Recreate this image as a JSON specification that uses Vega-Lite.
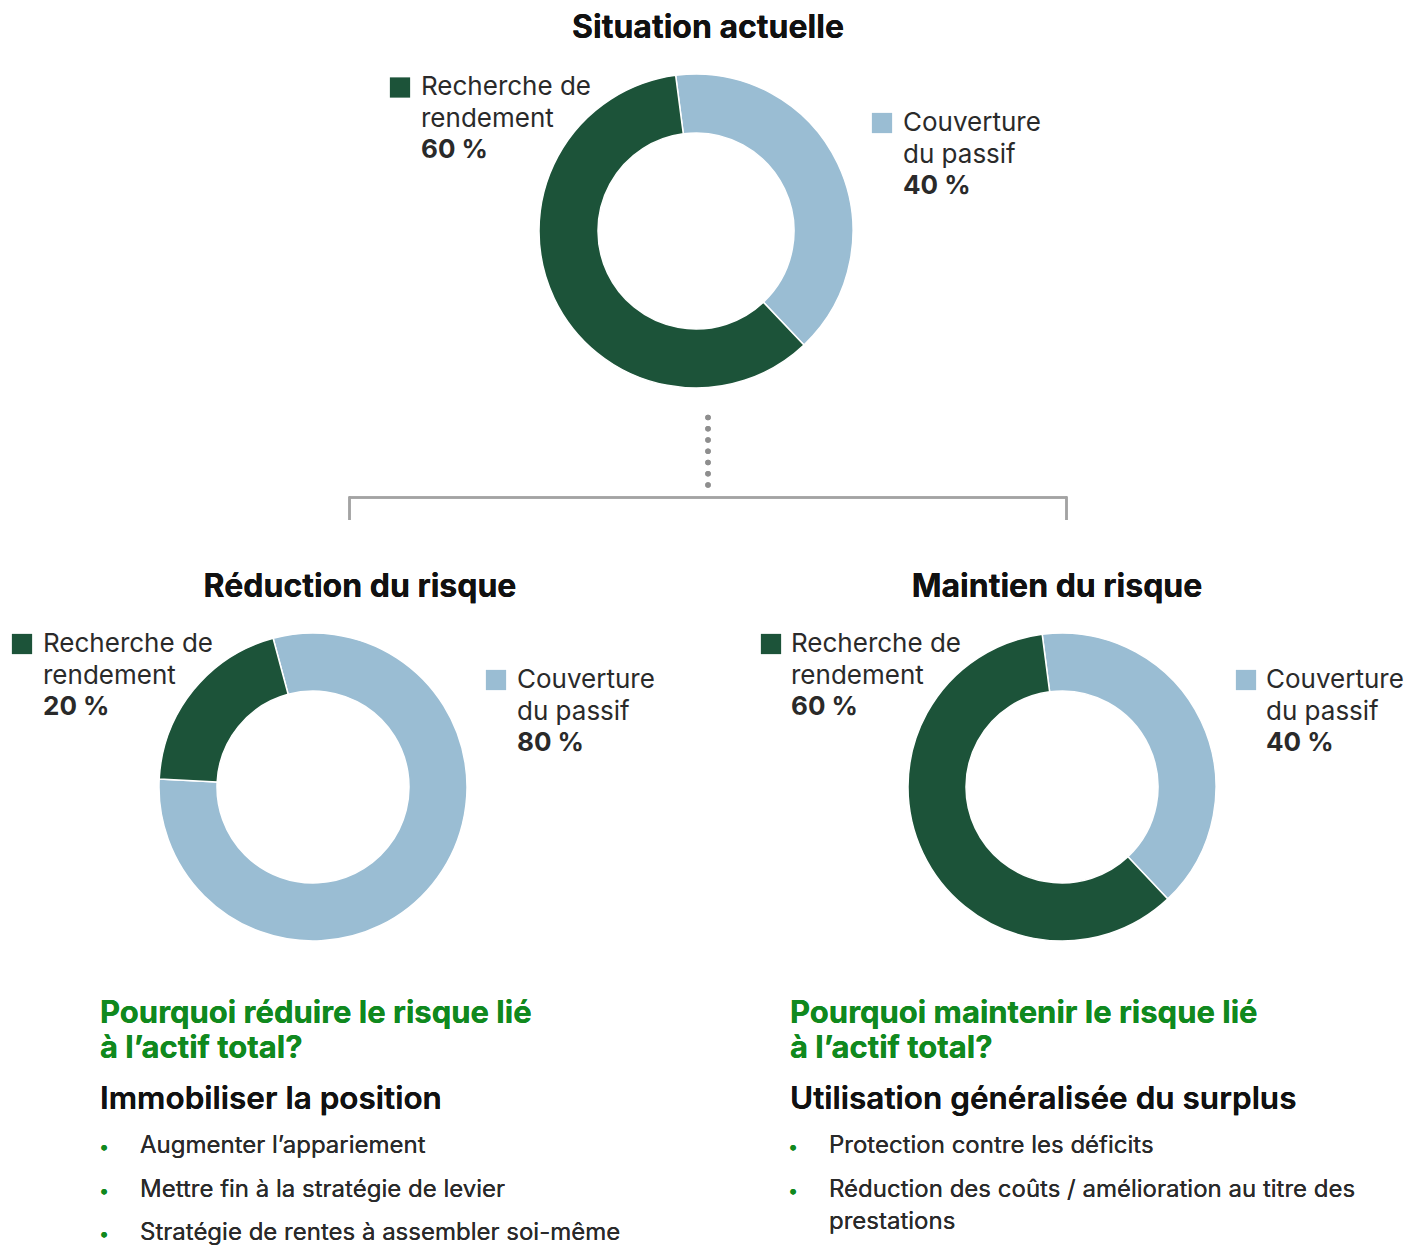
{
  "$schema": "https://vega.github.io/schema/vega-lite/v6.json",
  "background": "white",
  "padding": 0,
  "spacing": 0,
  "bounds": "flush",
  "config": {
    "view": {"stroke": null},
    "font": "Inter",
    "text": {"font": "Inter"},
    "concat": {"spacing": 0}
  },
  "datasets": {
    "shares": [
      {"panel": "actuelle", "category": "Couverture du passif", "label": "Couverture\ndu passif", "value": 40, "order": 1},
      {"panel": "actuelle", "category": "Recherche de rendement", "label": "Recherche de\nrendement", "value": 60, "order": 2},
      {"panel": "reduction", "category": "Couverture du passif", "label": "Couverture\ndu passif", "value": 80, "order": 1},
      {"panel": "reduction", "category": "Recherche de rendement", "label": "Recherche de\nrendement", "value": 20, "order": 2},
      {"panel": "maintien", "category": "Couverture du passif", "label": "Couverture\ndu passif", "value": 40, "order": 1},
      {"panel": "maintien", "category": "Recherche de rendement", "label": "Recherche de\nrendement", "value": 60, "order": 2}
    ]
  },
  "vconcat": [
    {
      "width": 1392,
      "height": 462,
      "data": {"name": "shares"},
      "transform": [
        {"filter": "datum.panel === 'actuelle'"},
        {"calculate": "datum.value + ' %'", "as": "pct"}
      ],
      "layer": [
        {
          "mark": {"type": "arc", "outerRadius": 157, "innerRadius": 98, "stroke": "white", "strokeWidth": 1.5},
          "encoding": {
            "theta": {"field": "value", "type": "quantitative", "stack": true, "scale": {"range": [-0.13, 6.1532]}},
            "order": {"field": "order", "type": "quantitative"},
            "color": {"field": "category", "type": "nominal", "legend": null, "scale": {"domain": ["Recherche de rendement", "Couverture du passif"], "range": ["#1c5339", "#9abdd3"]}}
          }
        },
        {
          "mark": {"type": "text", "text": "Situation actuelle", "x": 708, "y": 38, "align": "center", "baseline": "alphabetic", "fontSize": 32, "fontWeight": "bold", "color": "#111111"},
          "encoding": {}
        },
        {
          "transform": [{"filter": "datum.category === 'Recherche de rendement'"}],
          "layer": [
            {"mark": {"type": "square", "size": 410, "opacity": 1, "x": 400, "y": 87.5}, "encoding": {"color": {"field": "category", "type": "nominal", "legend": null}}},
            {"mark": {"type": "text", "x": 421, "y": 95, "align": "left", "baseline": "alphabetic", "fontSize": 26, "lineHeight": 31.5, "lineBreak": "\n", "color": "#2a2a2a"}, "encoding": {"text": {"field": "label", "type": "nominal"}}},
            {"mark": {"type": "text", "x": 421, "y": 158, "align": "left", "baseline": "alphabetic", "fontSize": 26, "fontWeight": "bold", "color": "#2a2a2a"}, "encoding": {"text": {"field": "pct", "type": "nominal"}}}
          ]
        },
        {
          "transform": [{"filter": "datum.category === 'Couverture du passif'"}],
          "layer": [
            {"mark": {"type": "square", "size": 410, "opacity": 1, "x": 882, "y": 123}, "encoding": {"color": {"field": "category", "type": "nominal", "legend": null}}},
            {"mark": {"type": "text", "x": 903, "y": 131, "align": "left", "baseline": "alphabetic", "fontSize": 26, "lineHeight": 31.5, "lineBreak": "\n", "color": "#2a2a2a"}, "encoding": {"text": {"field": "label", "type": "nominal"}}},
            {"mark": {"type": "text", "x": 903, "y": 194, "align": "left", "baseline": "alphabetic", "fontSize": 26, "fontWeight": "bold", "color": "#2a2a2a"}, "encoding": {"text": {"field": "pct", "type": "nominal"}}}
          ]
        },
        {
          "mark": {"type": "rule", "color": "#8e8e8e", "strokeWidth": 5.5, "strokeCap": "round", "strokeDash": [0.01, 11.25]},
          "encoding": {"x": {"value": 708}, "y": {"value": 417.5}, "y2": {"value": 485.5}}
        },
        {
          "mark": {"type": "rule", "color": "#a3a3a3", "strokeWidth": 2.5},
          "encoding": {"x": {"value": 349}, "x2": {"value": 1067}, "y": {"value": 497.5}}
        },
        {
          "mark": {"type": "rule", "color": "#a3a3a3", "strokeWidth": 2.5},
          "encoding": {"x": {"value": 349.5}, "y": {"value": 496.5}, "y2": {"value": 520}}
        },
        {
          "mark": {"type": "rule", "color": "#a3a3a3", "strokeWidth": 2.5},
          "encoding": {"x": {"value": 1066.5}, "y": {"value": 496.5}, "y2": {"value": 520}}
        }
      ]
    },
    {
      "spacing": 0,
      "bounds": "flush",
      "hconcat": [
        {
          "width": 626,
          "height": 650,
          "data": {"name": "shares"},
          "transform": [
            {"filter": "datum.panel === 'reduction'"},
            {"calculate": "datum.value + ' %'", "as": "pct"}
          ],
          "layer": [
            {
              "mark": {"type": "arc", "outerRadius": 154, "innerRadius": 96, "stroke": "white", "strokeWidth": 1.5},
              "encoding": {
                "theta": {"field": "value", "type": "quantitative", "stack": true, "scale": {"range": [-0.262, 6.0212]}},
                "order": {"field": "order", "type": "quantitative"},
                "color": {"field": "category", "type": "nominal", "legend": null, "scale": {"domain": ["Recherche de rendement", "Couverture du passif"], "range": ["#1c5339", "#9abdd3"]}}
              }
            },
            {
              "mark": {"type": "text", "text": "Réduction du risque", "x": 360, "y": 135, "align": "center", "baseline": "alphabetic", "fontSize": 32, "fontWeight": "bold", "color": "#111111"},
              "encoding": {}
            },
            {
              "transform": [{"filter": "datum.category === 'Recherche de rendement'"}],
              "layer": [
                {"mark": {"type": "square", "size": 410, "opacity": 1, "x": 22, "y": 182}, "encoding": {"color": {"field": "category", "type": "nominal", "legend": null}}},
                {"mark": {"type": "text", "x": 43, "y": 190, "align": "left", "baseline": "alphabetic", "fontSize": 26, "lineHeight": 31.5, "lineBreak": "\n", "color": "#2a2a2a"}, "encoding": {"text": {"field": "label", "type": "nominal"}}},
                {"mark": {"type": "text", "x": 43, "y": 253, "align": "left", "baseline": "alphabetic", "fontSize": 26, "fontWeight": "bold", "color": "#2a2a2a"}, "encoding": {"text": {"field": "pct", "type": "nominal"}}}
              ]
            },
            {
              "transform": [{"filter": "datum.category === 'Couverture du passif'"}],
              "layer": [
                {"mark": {"type": "square", "size": 410, "opacity": 1, "x": 496, "y": 218}, "encoding": {"color": {"field": "category", "type": "nominal", "legend": null}}},
                {"mark": {"type": "text", "x": 517, "y": 226, "align": "left", "baseline": "alphabetic", "fontSize": 26, "lineHeight": 31.5, "lineBreak": "\n", "color": "#2a2a2a"}, "encoding": {"text": {"field": "label", "type": "nominal"}}},
                {"mark": {"type": "text", "x": 517, "y": 289, "align": "left", "baseline": "alphabetic", "fontSize": 26, "fontWeight": "bold", "color": "#2a2a2a"}, "encoding": {"text": {"field": "pct", "type": "nominal"}}}
              ]
            },
            {
              "mark": {"type": "text", "text": "Pourquoi réduire le risque lié\nà l’actif total?", "lineBreak": "\n", "lineHeight": 35, "x": 100, "y": 561, "align": "left", "baseline": "alphabetic", "fontSize": 31, "fontWeight": "bold", "color": "#10891e"},
              "encoding": {}
            },
            {
              "mark": {"type": "text", "text": "Immobiliser la position", "x": 100, "y": 647, "align": "left", "baseline": "alphabetic", "fontSize": 31.5, "fontWeight": 600, "color": "#111111"},
              "encoding": {}
            },
            {
              "mark": {"type": "text", "text": "Augmenter l’appariement\nMettre fin à la stratégie de levier\nStratégie de rentes à assembler soi-même", "lineBreak": "\n", "lineHeight": 43.5, "x": 140, "y": 691, "align": "left", "baseline": "alphabetic", "fontSize": 24, "color": "#2a2a2a"},
              "encoding": {}
            },
            {
              "mark": {"type": "text", "text": "•\n•\n•", "lineBreak": "\n", "lineHeight": 43.5, "x": 104, "y": 691, "align": "center", "baseline": "alphabetic", "fontSize": 18, "color": "#10891e"},
              "encoding": {}
            }
          ]
        },
        {
          "width": 88,
          "height": 650,
          "mark": {"type": "rule", "color": "#dadada", "strokeWidth": 2},
          "encoding": {"x": {"value": 82}, "y": {"value": 114}, "y2": {"value": 751}}
        },
        {
          "width": 696,
          "height": 650,
          "data": {"name": "shares"},
          "transform": [
            {"filter": "datum.panel === 'maintien'"},
            {"calculate": "datum.value + ' %'", "as": "pct"}
          ],
          "layer": [
            {
              "mark": {"type": "arc", "outerRadius": 154, "innerRadius": 96, "stroke": "white", "strokeWidth": 1.5},
              "encoding": {
                "theta": {"field": "value", "type": "quantitative", "stack": true, "scale": {"range": [-0.129, 6.1542]}},
                "order": {"field": "order", "type": "quantitative"},
                "color": {"field": "category", "type": "nominal", "legend": null, "scale": {"domain": ["Recherche de rendement", "Couverture du passif"], "range": ["#1c5339", "#9abdd3"]}}
              }
            },
            {
              "mark": {"type": "text", "text": "Maintien du risque", "x": 343, "y": 135, "align": "center", "baseline": "alphabetic", "fontSize": 32, "fontWeight": "bold", "color": "#111111"},
              "encoding": {}
            },
            {
              "transform": [{"filter": "datum.category === 'Recherche de rendement'"}],
              "layer": [
                {"mark": {"type": "square", "size": 410, "opacity": 1, "x": 57, "y": 182}, "encoding": {"color": {"field": "category", "type": "nominal", "legend": null}}},
                {"mark": {"type": "text", "x": 77, "y": 190, "align": "left", "baseline": "alphabetic", "fontSize": 26, "lineHeight": 31.5, "lineBreak": "\n", "color": "#2a2a2a"}, "encoding": {"text": {"field": "label", "type": "nominal"}}},
                {"mark": {"type": "text", "x": 77, "y": 253, "align": "left", "baseline": "alphabetic", "fontSize": 26, "fontWeight": "bold", "color": "#2a2a2a"}, "encoding": {"text": {"field": "pct", "type": "nominal"}}}
              ]
            },
            {
              "transform": [{"filter": "datum.category === 'Couverture du passif'"}],
              "layer": [
                {"mark": {"type": "square", "size": 410, "opacity": 1, "x": 532, "y": 218}, "encoding": {"color": {"field": "category", "type": "nominal", "legend": null}}},
                {"mark": {"type": "text", "x": 552, "y": 226, "align": "left", "baseline": "alphabetic", "fontSize": 26, "lineHeight": 31.5, "lineBreak": "\n", "color": "#2a2a2a"}, "encoding": {"text": {"field": "label", "type": "nominal"}}},
                {"mark": {"type": "text", "x": 552, "y": 289, "align": "left", "baseline": "alphabetic", "fontSize": 26, "fontWeight": "bold", "color": "#2a2a2a"}, "encoding": {"text": {"field": "pct", "type": "nominal"}}}
              ]
            },
            {
              "mark": {"type": "text", "text": "Pourquoi maintenir le risque lié\nà l’actif total?", "lineBreak": "\n", "lineHeight": 35, "x": 76, "y": 561, "align": "left", "baseline": "alphabetic", "fontSize": 31, "fontWeight": "bold", "color": "#10891e"},
              "encoding": {}
            },
            {
              "mark": {"type": "text", "text": "Utilisation généralisée du surplus", "x": 76, "y": 647, "align": "left", "baseline": "alphabetic", "fontSize": 31.5, "fontWeight": 600, "color": "#111111"},
              "encoding": {}
            },
            {
              "mark": {"type": "text", "text": "Protection contre les déficits", "x": 115, "y": 691, "align": "left", "baseline": "alphabetic", "fontSize": 24, "color": "#2a2a2a"},
              "encoding": {}
            },
            {
              "mark": {"type": "text", "text": "Réduction des coûts / amélioration au titre des\nprestations", "lineBreak": "\n", "lineHeight": 32, "x": 115, "y": 735, "align": "left", "baseline": "alphabetic", "fontSize": 24, "color": "#2a2a2a"},
              "encoding": {}
            },
            {
              "mark": {"type": "text", "text": "•\n•", "lineBreak": "\n", "lineHeight": 44, "x": 79, "y": 691, "align": "center", "baseline": "alphabetic", "fontSize": 18, "color": "#10891e"},
              "encoding": {}
            }
          ]
        }
      ]
    }
  ]
}
